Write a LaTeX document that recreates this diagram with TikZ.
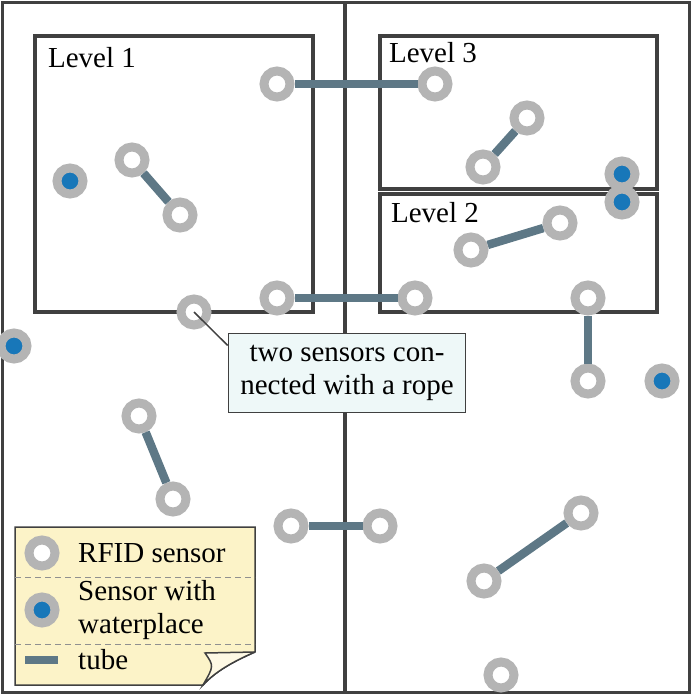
\documentclass[tikz,border=0pt]{standalone}
\usepackage{fontspec}
\setmainfont{Liberation Serif}
\usetikzlibrary{positioning, calc}
\definecolor{framegray}{HTML}{404040}
\definecolor{ringgray}{HTML}{B4B4B4}
\definecolor{tubegray}{HTML}{5E7886}
\definecolor{waterblue}{HTML}{1877B9}
\definecolor{notefill}{HTML}{EEF8F8}
\definecolor{legendfill}{HTML}{FCF3C8}
\definecolor{flapfill}{HTML}{FEF9E4}
\begin{document}
\begin{tikzpicture}[
        x=1pt, y=-1pt,
        font=\fontsize{29}{33}\selectfont,
        level/.style={% For the level boxes
            draw=framegray,
            line width=4pt,
            },
        sensor/.style={% RFID sensor ring
            circle,
            draw=ringgray,
            line width=9pt,
            fill=white,
            minimum size=26pt,
            inner sep=0pt,
            },
        water/.style={% sensor with waterplace
            sensor,
            fill=waterblue,
            },
        tube/.style={% tube between two sensors
            draw=tubegray,
            line width=8.5pt,
            },
        note/.style={% the callout
            rectangle,
            draw=framegray,
            line width=1.6pt,
            fill=notefill,
            align=center,
            minimum width=237pt,
            minimum height=79pt,
            },
        mylabel/.style={% texts of the legend
            anchor=west,
            inner sep=0pt,
            },
            ]
    \useasboundingbox (0,0) rectangle (693,696);
    % Outer frame and middle wall
    \coordinate (top) at (345,2);
    \coordinate (bottom) at (345,692);
    \draw[framegray, line width=3pt] (2,2) rectangle (689,692);
    \draw[framegray, line width=3.5pt] (top) -- (bottom);
    % Levels
    \draw[level] (35,36) rectangle (313,312);
    \draw[level] (380,36) rectangle (657,189);
    \draw[level] (380,194) rectangle (657,312);
    \node (l1) at (92,58) {Level 1};
    \node (l3) at (433,53) {Level 3};
    \node (l2) at (435,213) {Level 2};
    % Sensors
    \node[sensor] (a1) at (277,84) {};
    \node[sensor] (a2) at (435,84) {};
    \node[sensor] (b1) at (132,160) {};
    \node[sensor] (b2) at (180,215) {};
    \node[water] (w1) at (70,181) {};
    \node[sensor] (c1) at (277,298) {};
    \node[sensor] (c2) at (415,298) {};
    \node[sensor] (cs) at (194,312) {};
    \node[water] (w2) at (14,346) {};
    \node[sensor] (d1) at (527,118) {};
    \node[sensor] (d2) at (483,167) {};
    \node[water] (w3) at (622,174) {};
    \node[water] (w4) at (622,202) {};
    \node[sensor] (e1) at (471,250) {};
    \node[sensor] (e2) at (560,223) {};
    \node[sensor] (f1) at (588,298) {};
    \node[sensor] (f2) at (588,381) {};
    \node[water] (w5) at (662,381) {};
    \node[sensor] (g1) at (139,416) {};
    \node[sensor] (g2) at (173,499) {};
    \node[sensor] (h1) at (291,526) {};
    \node[sensor] (h2) at (380,526) {};
    \node[sensor] (i1) at (484,581) {};
    \node[sensor] (i2) at (581,513) {};
    \node[sensor] (j1) at (501,675) {};
    % Tubes
    \foreach \X in {a,b,c,d,e,f,g,h,i}
        {\draw[tube] (\X1) -- (\X2);}
    % Callout
    \node[note] (callout) at (347,373) {two sensors con-\\nected with a rope};
    \draw[framegray, line width=1.5pt] (cs.center) -- (callout.167);
    % Legend
    \fill[legendfill, draw=framegray, line width=1.5pt] (15,527) -- (255,527) -- (255,652)
        .. controls (232,662) and (215,672) .. (203,685) -- (15,685) -- cycle;
    \draw[fill=flapfill, draw=framegray, line width=1.5pt]
        (255,652) -- (205,653) .. controls (214,666) .. (203,685)
        .. controls (215,672) and (232,662) .. (255,652);
    \draw[ringgray!80!black, dash pattern=on 6pt off 4pt, line width=1pt] (15,577) -- (255,577);
    \draw[ringgray!80!black, dash pattern=on 6pt off 4pt, line width=1pt] (15,644) -- (255,644);
    \node[sensor] (ls) at (42,553) {};
    \node[water] (lw) at (42,610) {};
    \coordinate (lt1) at (25,660);
    \coordinate (lt2) at (58,660);
    \draw[tube] (lt1) -- (lt2);
    \node[mylabel] (t1) at (78,553) {RFID sensor};
    \node[mylabel, align=left] (t2) at (78,610) {Sensor with\\waterplace};
    \node[mylabel] (t3) at (78,660) {tube};
\end{tikzpicture}
\end{document}
